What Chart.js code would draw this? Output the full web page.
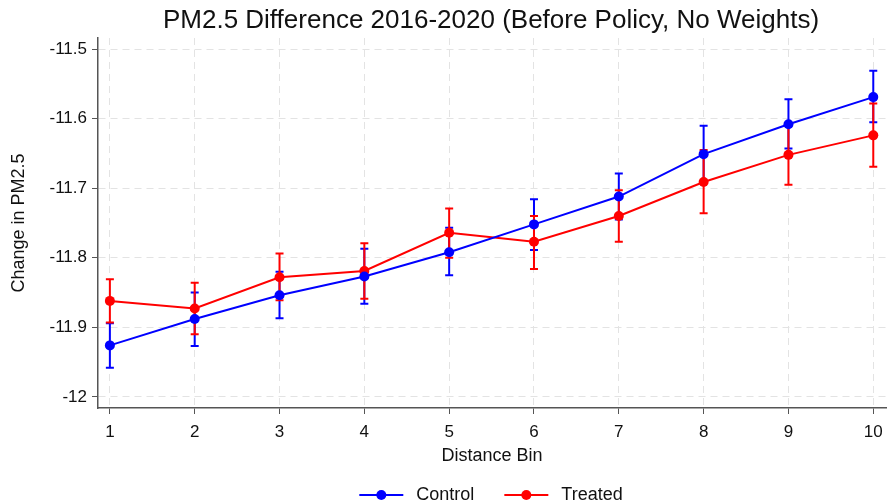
<!DOCTYPE html>
<html>
<head>
<meta charset="utf-8">
<script src="https://cdn.jsdelivr.net/npm/chart.js@4/dist/chart.umd.min.js"></script>
<style>
  html, body { margin: 0; padding: 0; background: #fff; }
  #wrap { width: 891px; height: 504px; position: relative; }
</style>
</head>
<body>
<div id="wrap"><canvas id="chart"></canvas></div>
<script>
// distance bins and tick values
var bins = [1, 2, 3, 4, 5, 6, 7, 8, 9, 10];
var yTickVals = [-12, -11.9, -11.8, -11.7, -11.6, -11.5];

// Control: mean and 95% CI bounds
var controlMean = [-11.926, -11.888, -11.854, -11.827, -11.792, -11.752, -11.712, -11.651, -11.608, -11.569];
var controlLo   = [-11.958, -11.927, -11.887, -11.866, -11.825, -11.789, -11.745, -11.692, -11.643, -11.605];
var controlHi   = [-11.894, -11.850, -11.820, -11.787, -11.757, -11.716, -11.679, -11.610, -11.572, -11.531];

// Treated: mean and 95% CI bounds
var treatedMean = [-11.862, -11.873, -11.828, -11.819, -11.764, -11.777, -11.740, -11.691, -11.652, -11.624];
var treatedLo   = [-11.893, -11.910, -11.861, -11.859, -11.800, -11.816, -11.777, -11.736, -11.695, -11.669];
var treatedHi   = [-11.831, -11.836, -11.794, -11.779, -11.729, -11.740, -11.703, -11.645, -11.609, -11.578];

var chartTitle = "PM2.5 Difference 2016-2020 (Before Policy, No Weights)";
var FONT = "'Liberation Sans', Arial, sans-serif";

function toPoints(xs, ys) {
    return xs.map(function (x, i) { return { x: x, y: ys[i] }; });
}

// error bars drawn under the lines
var errorBars = {
    id: 'errorBars',
    beforeDatasetsDraw: function (chart) {
        var ctx = chart.ctx;
        var xs = chart.scales.x, ys = chart.scales.y;
        chart.data.datasets.forEach(function (ds) {
            ctx.save();
            ctx.strokeStyle = ds.borderColor;
            ctx.lineWidth = 2;
            ds.lo.forEach(function (lo, i) {
                var px = xs.getPixelForValue(ds.data[i].x);
                var p1 = ys.getPixelForValue(lo);
                var p2 = ys.getPixelForValue(ds.hi[i]);
                ctx.beginPath();
                ctx.moveTo(px, p1); ctx.lineTo(px, p2);
                ctx.moveTo(px - 4, p1); ctx.lineTo(px + 4, p1);
                ctx.moveTo(px - 4, p2); ctx.lineTo(px + 4, p2);
                ctx.stroke();
            });
            ctx.restore();
        });
    }
};

// title and legend centred on the plot area
var titleLegend = {
    id: 'titleLegend',
    afterDraw: function (chart) {
        var ctx = chart.ctx;
        var area = chart.chartArea;
        var cx = (area.left + area.right) / 2 - 1;
        ctx.save();
        ctx.fillStyle = '#111';
        ctx.textAlign = 'center';
        ctx.textBaseline = 'alphabetic';
        ctx.font = '26px ' + FONT;
        ctx.fillText(chartTitle, cx, 28);

        ctx.font = '18px ' + FONT;
        ctx.textAlign = 'left';
        ctx.textBaseline = 'middle';
        var ly = 495, lineW = 44, gap = 13, between = 30;
        var items = chart.data.datasets;
        var total = 0;
        items.forEach(function (ds, i) {
            total += lineW + gap + ctx.measureText(ds.label).width;
            if (i > 0) total += between;
        });
        var x = cx - total / 2;
        items.forEach(function (ds) {
            ctx.strokeStyle = ds.borderColor;
            ctx.lineWidth = 2;
            ctx.beginPath();
            ctx.moveTo(x, ly); ctx.lineTo(x + lineW, ly);
            ctx.stroke();
            ctx.fillStyle = ds.borderColor;
            ctx.beginPath();
            ctx.arc(x + lineW / 2, ly, 5, 0, Math.PI * 2);
            ctx.fill();
            ctx.fillStyle = '#111';
            ctx.fillText(ds.label, x + lineW + gap, ly);
            x += lineW + gap + ctx.measureText(ds.label).width + between;
        });
        ctx.restore();
    }
};

new Chart(document.getElementById("chart"), {
    type: 'line',
    data: {
        datasets: [{
            label: "Control",
            data: toPoints(bins, controlMean),
            lo: controlLo,
            hi: controlHi,
            borderColor: "#0000ff",
            backgroundColor: "#0000ff",
            borderWidth: 2,
            pointRadius: 5,
            pointBorderWidth: 0,
            fill: false
        }, {
            label: "Treated",
            data: toPoints(bins, treatedMean),
            lo: treatedLo,
            hi: treatedHi,
            borderColor: "#ff0000",
            backgroundColor: "#ff0000",
            borderWidth: 2,
            pointRadius: 5,
            pointBorderWidth: 0,
            fill: false
        }]
    },
    options: {
        responsive: true,
        maintainAspectRatio: false,
        animation: false,
        layout: { padding: { top: 38, left: 0, right: 1, bottom: 36 } },
        plugins: {
            legend: { display: false },
            title: { display: false },
            tooltip: { enabled: false }
        },
        scales: {
            x: {
                type: 'linear',
                min: 0.86,
                max: 10.15,
                afterBuildTicks: function (scale) {
                    scale.ticks = bins.map(function (v) { return { value: v }; });
                },
                afterFit: function (scale) { scale.height = 60; },
                grid: { color: '#e3e3e3', tickColor: '#555', tickLength: 6, tickBorderDash: [], lineWidth: 1 },
                border: { color: '#555', width: 1.5, dash: [7, 5] },
                ticks: { color: '#111', font: { family: FONT, size: 17 }, padding: 8, maxRotation: 0 },
                title: { display: true, text: 'Distance Bin', color: '#111', font: { family: FONT, size: 18 }, padding: { top: 0, bottom: 1 } }
            },
            y: {
                type: 'linear',
                min: -12.016,
                max: -11.484,
                afterBuildTicks: function (scale) {
                    scale.ticks = yTickVals.map(function (v) { return { value: v }; });
                },
                afterFit: function (scale) { scale.width = 98; },
                grid: { color: '#e3e3e3', tickColor: '#555', tickLength: 6, tickBorderDash: [], lineWidth: 1 },
                border: { color: '#555', width: 1.5, dash: [7, 5] },
                ticks: {
                    color: '#111', font: { family: FONT, size: 17 }, padding: 5,
                    callback: function (v) { return String(Number(v.toFixed(1))); }
                },
                title: { display: true, text: 'Change in PM2.5', color: '#111', font: { family: FONT, size: 18 }, padding: { top: 8, bottom: 0 } }
            }
        }
    },
    plugins: [errorBars, titleLegend]
});
</script>
</body>
</html>
